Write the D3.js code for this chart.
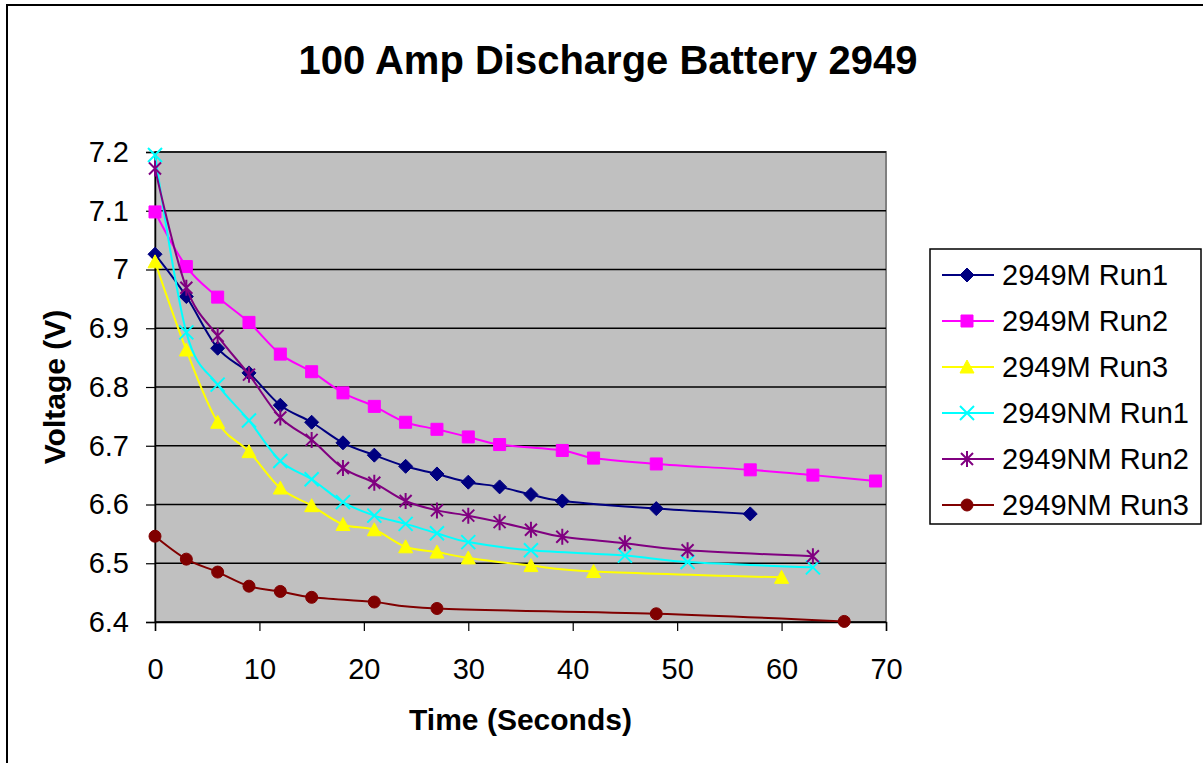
<!DOCTYPE html>
<html lang="en">
    <head>
        <meta charset="utf-8">
        <title>100 Amp Discharge Battery 2949</title>
        <script type="text/javascript" src="https://cdn.jsdelivr.net/npm/d3@7"></script>
        <style type="text/css">
            body { margin: 0; background: #ffffff; }
            text { font-family: "Liberation Sans", Arial, sans-serif; fill: #000000; }
        </style>
    </head>

    <body>
        <script type="text/javascript">
            // Series names (legend order)
            var seriesNames = ["2949M Run1", "2949M Run2", "2949M Run3",
                               "2949NM Run1", "2949NM Run2", "2949NM Run3"];

            // Time (s) and voltage (V), one pair of arrays per series
            var m1Time = [0, 3, 6, 9, 12, 15, 18, 21, 24, 27, 30, 33, 36, 39, 48, 57];
            var m1Volt = [7.026, 6.954, 6.866, 6.824, 6.769, 6.740, 6.705, 6.684, 6.665, 6.652,
                          6.638, 6.630, 6.617, 6.606, 6.593, 6.584];

            var m2Time = [0, 3, 6, 9, 12, 15, 18, 21, 24, 27, 30, 33, 39, 42, 48, 57, 63, 69];
            var m2Volt = [7.098, 7.005, 6.953, 6.910, 6.856, 6.826, 6.790, 6.767, 6.740, 6.728,
                          6.715, 6.702, 6.692, 6.679, 6.669, 6.659, 6.650, 6.640];

            var m3Time = [0, 3, 6, 9, 12, 15, 18, 21, 24, 27, 30, 36, 42, 60];
            var m3Volt = [7.013, 6.863, 6.740, 6.690, 6.628, 6.598, 6.566, 6.557, 6.528, 6.519,
                          6.509, 6.496, 6.486, 6.476];

            var nm1Time = [0, 3, 6, 9, 12, 15, 18, 21, 24, 27, 30, 36, 45, 51, 63];
            var nm1Volt = [7.195, 6.893, 6.804, 6.743, 6.674, 6.643, 6.604, 6.581, 6.567, 6.551,
                           6.536, 6.522, 6.513, 6.502, 6.493];

            var nm2Time = [0, 3, 6, 9, 12, 15, 18, 21, 24, 27, 30, 33, 36, 39, 45, 51, 63];
            var nm2Volt = [7.172, 6.969, 6.887, 6.821, 6.748, 6.710, 6.662, 6.637, 6.606, 6.590,
                           6.581, 6.570, 6.557, 6.545, 6.534, 6.522, 6.512];

            var nm3Time = [0, 3, 6, 9, 12, 15, 21, 27, 48, 66];
            var nm3Volt = [6.546, 6.507, 6.485, 6.461, 6.452, 6.442, 6.434, 6.423, 6.414, 6.401];

            // Axis ticks
            var xTicks = [0, 10, 20, 30, 40, 50, 60, 70];
            var yTicks = [6.4, 6.5, 6.6, 6.7, 6.8, 6.9, 7.0, 7.1, 7.2];

            var colors = ["#000080", "#ff00ff", "#ffff00", "#00ffff", "#800080", "#800000"];
            var shapes = ["diamond", "square", "triangle", "x", "star", "circle"];

            var times = [m1Time, m2Time, m3Time, nm1Time, nm2Time, nm3Time];
            var volts = [m1Volt, m2Volt, m3Volt, nm1Volt, nm2Volt, nm3Volt];

            var series = seriesNames.map(function(name, i) {
                return {
                    name: name,
                    color: colors[i],
                    shape: shapes[i],
                    points: times[i].map(function(t, j) { return { t: t, v: volts[i][j] }; })
                };
            });

            // Page and plot dimensions
            var w = 1203;
            var h = 763;
            var plot = { left: 155, top: 152, right: 886, bottom: 622 };

            var svg = d3.select("body")
                        .append("svg")
                        .attr("width", w)
                        .attr("height", h);

            // Outer chart border (runs off the right and bottom edges)
            svg.append("rect")
                .attr("x", 7)
                .attr("y", 5)
                .attr("width", 1220)
                .attr("height", 800)
                .attr("fill", "#ffffff")
                .attr("stroke", "#000000")
                .attr("stroke-width", 2);

            var x = d3.scaleLinear().domain([0, 70]).range([plot.left, plot.right]);
            var y = d3.scaleLinear().domain([6.4, 7.2]).range([plot.bottom, plot.top]);

            // Plot background
            svg.append("rect")
                .attr("x", plot.left)
                .attr("y", plot.top)
                .attr("width", plot.right - plot.left)
                .attr("height", plot.bottom - plot.top)
                .attr("fill", "#c0c0c0")
                .attr("stroke", "#808080")
                .attr("stroke-width", 2);

            // Horizontal gridlines
            svg.append("g")
                .selectAll("line")
                .data(yTicks)
                .enter()
                .append("line")
                .attr("x1", plot.left)
                .attr("x2", plot.right)
                .attr("y1", function(d) { return y(d); })
                .attr("y2", function(d) { return y(d); })
                .attr("stroke", "#000000")
                .attr("stroke-width", 1.3);

            // Axes
            var yAxis = svg.append("g")
                .attr("transform", "translate(" + plot.left + ",0)")
                .call(d3.axisLeft(y)
                    .tickValues(yTicks)
                    .tickSize(9)
                    .tickPadding(17)
                    .tickFormat(function(d) { return String(+d.toFixed(1)); }));

            var xAxis = svg.append("g")
                .attr("transform", "translate(0," + plot.bottom + ")")
                .call(d3.axisBottom(x)
                    .tickValues(xTicks)
                    .tickSize(9)
                    .tickPadding(27)
                    .tickFormat(d3.format("d")));

            [yAxis, xAxis].forEach(function(ax) {
                ax.select(".domain").attr("stroke", "#000000").attr("stroke-width", 1.5);
                ax.selectAll(".tick line").attr("stroke", "#000000").attr("stroke-width", 1.2);
                ax.selectAll(".tick text")
                    .attr("font-family", "'Liberation Sans', Arial, sans-serif")
                    .attr("font-size", "29px")
                    .attr("fill", "#000000");
            });

            // Marker path builder
            function markerPath(shape) {
                switch (shape) {
                    case "diamond":
                        return "M0,-7L7,0L0,7L-7,0Z";
                    case "square":
                        return "M-6,-6H6V6H-6Z";
                    case "triangle":
                        return "M0,-7L7,6H-7Z";
                    case "circle":
                        return "M6,0A6,6 0 1,1 -6,0A6,6 0 1,1 6,0Z";
                    case "x":
                        return "M-7,-7L7,7M-7,7L7,-7";
                    case "star":
                        return "M-6,-6L6,6M-6,6L6,-6M0,-8V8";
                }
            }

            function drawMarker(sel, s) {
                var open = (s.shape === "x" || s.shape === "star");
                sel.append("path")
                    .attr("d", markerPath(s.shape))
                    .attr("fill", open ? "none" : s.color)
                    .attr("stroke", s.color)
                    .attr("stroke-width", open ? 2 : 1);
            }

            var line = d3.line()
                .x(function(d) { return x(d.t); })
                .y(function(d) { return y(d.v); })
                .curve(d3.curveCardinal.tension(0));

            // Lines and markers
            var seriesG = svg.selectAll(".series")
                .data(series)
                .enter()
                .append("g")
                .attr("class", "series");

            seriesG.append("path")
                .attr("d", function(d) { return line(d.points); })
                .attr("fill", "none")
                .attr("stroke", function(d) { return d.color; })
                .attr("stroke-width", 2);

            seriesG.each(function(s) {
                d3.select(this).selectAll(".mk")
                    .data(s.points)
                    .enter()
                    .append("g")
                    .attr("class", "mk")
                    .attr("transform", function(d) { return "translate(" + x(d.t) + "," + y(d.v) + ")"; })
                    .each(function() { drawMarker(d3.select(this), s); });
            });

            // Title
            svg.append("text")
                .attr("x", 608)
                .attr("y", 74)
                .attr("text-anchor", "middle")
                .attr("font-size", "40px")
                .attr("font-weight", "bold")
                .text("100 Amp Discharge Battery 2949");

            // Axis titles
            svg.append("text")
                .attr("x", (plot.left + plot.right) / 2)
                .attr("y", 730)
                .attr("text-anchor", "middle")
                .attr("font-size", "30px")
                .attr("font-weight", "bold")
                .text("Time (Seconds)");

            svg.append("text")
                .attr("transform", "translate(65," + (plot.top + plot.bottom) / 2 + ") rotate(-90)")
                .attr("text-anchor", "middle")
                .attr("font-size", "30px")
                .attr("font-weight", "bold")
                .text("Voltage (V)");

            // Legend
            var legend = svg.append("g");
            legend.append("rect")
                .attr("x", 930)
                .attr("y", 249)
                .attr("width", 271)
                .attr("height", 275)
                .attr("fill", "#ffffff")
                .attr("stroke", "#000000")
                .attr("stroke-width", 1.5);

            var items = legend.selectAll(".item")
                .data(series)
                .enter()
                .append("g")
                .attr("class", "item")
                .attr("transform", function(d, i) { return "translate(0," + (275 + i * 46) + ")"; });

            items.append("line")
                .attr("x1", 942)
                .attr("x2", 994)
                .attr("stroke", function(d) { return d.color; })
                .attr("stroke-width", 2);

            items.append("g")
                .attr("transform", "translate(967,0)")
                .each(function(s) { drawMarker(d3.select(this), s); });

            items.append("text")
                .attr("x", 1002)
                .attr("dy", "0.35em")
                .attr("font-size", "29px")
                .text(function(d) { return d.name; });
        </script>
    </body>
</html>
